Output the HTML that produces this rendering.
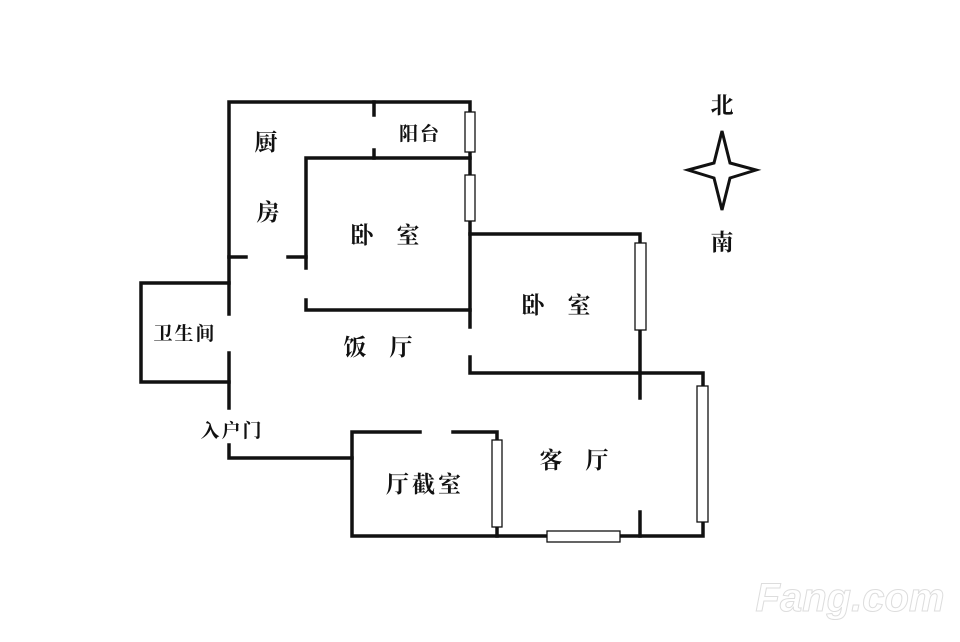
<!DOCTYPE html>
<html><head><meta charset="utf-8"><style>
html,body{margin:0;padding:0;background:#fff;}
svg text.l{font-family:"Liberation Serif","Noto Serif CJK SC",serif;fill:#111;font-weight:bold;}
</style></head><body>
<svg width="960" height="637" viewBox="0 0 960 637" xmlns="http://www.w3.org/2000/svg">
<g stroke="#111" stroke-width="3.5" fill="none" stroke-linecap="square">
<polyline points="229,314 229,102 470,102 470,327"/>
<line x1="229" y1="353" x2="229" y2="408"/>
<polyline points="229,445 229,458 352,458"/>
<line x1="374" y1="102" x2="374" y2="115"/>
<line x1="374" y1="150" x2="374" y2="158"/>
<polyline points="306,268 306,158 470,158"/>
<polyline points="306,300 306,310 470,310"/>
<line x1="229" y1="257" x2="246" y2="257"/>
<line x1="288" y1="257" x2="306" y2="257"/>
<polyline points="229,283 141,283 141,382 229,382"/>
<polyline points="470,234 640,234 640,398"/>
<polyline points="470,357 470,373 703,373 703,536 352,536 352,432 420,432"/>
<polyline points="453,432 497,432 497,536"/>
<line x1="640" y1="512" x2="640" y2="536"/>
</g>
<g stroke="#111" stroke-width="1.3" fill="#fff">
<rect x="465" y="112" width="10" height="40"/>
<rect x="465" y="175" width="10" height="46"/>
<rect x="635" y="243" width="11" height="87"/>
<rect x="697" y="386" width="11" height="136"/>
<rect x="492" y="440" width="10" height="87"/>
<rect x="547" y="531" width="73" height="11"/>
</g>
<polygon points="722,131 730,163 756,170 730,178 722,210 714,178 688,170 714,163" fill="#fff" stroke="#111" stroke-width="3"/>
<g font-size="23" text-anchor="middle">
<text class="l" x="266" y="150">厨</text>
<text class="l" x="268" y="220">房</text>
<text class="l" x="385" y="243">卧　室</text>
<text class="l" x="556" y="313">卧　室</text>
<text class="l" x="378" y="355">饭　厅</text>
<text class="l" x="574" y="468">客　厅</text>
<text class="l" x="425" y="492" letter-spacing="3">厅截室</text>
<text class="l" x="722" y="113">北</text>
<text class="l" x="722" y="250">南</text>
</g>
<g font-size="19" text-anchor="middle">
<text class="l" x="420" y="140" letter-spacing="2">阳台</text>
<text class="l" x="185" y="340" letter-spacing="2">卫生间</text>
<text class="l" x="232" y="437" letter-spacing="2">入户门</text>
</g>
<text x="850" y="611" font-size="40" font-weight="bold" font-style="italic" text-anchor="middle" style="font-family:'Liberation Sans',sans-serif;fill:#fff;stroke:#ddd;stroke-width:1">Fang.com</text>
</svg>
</body></html>
